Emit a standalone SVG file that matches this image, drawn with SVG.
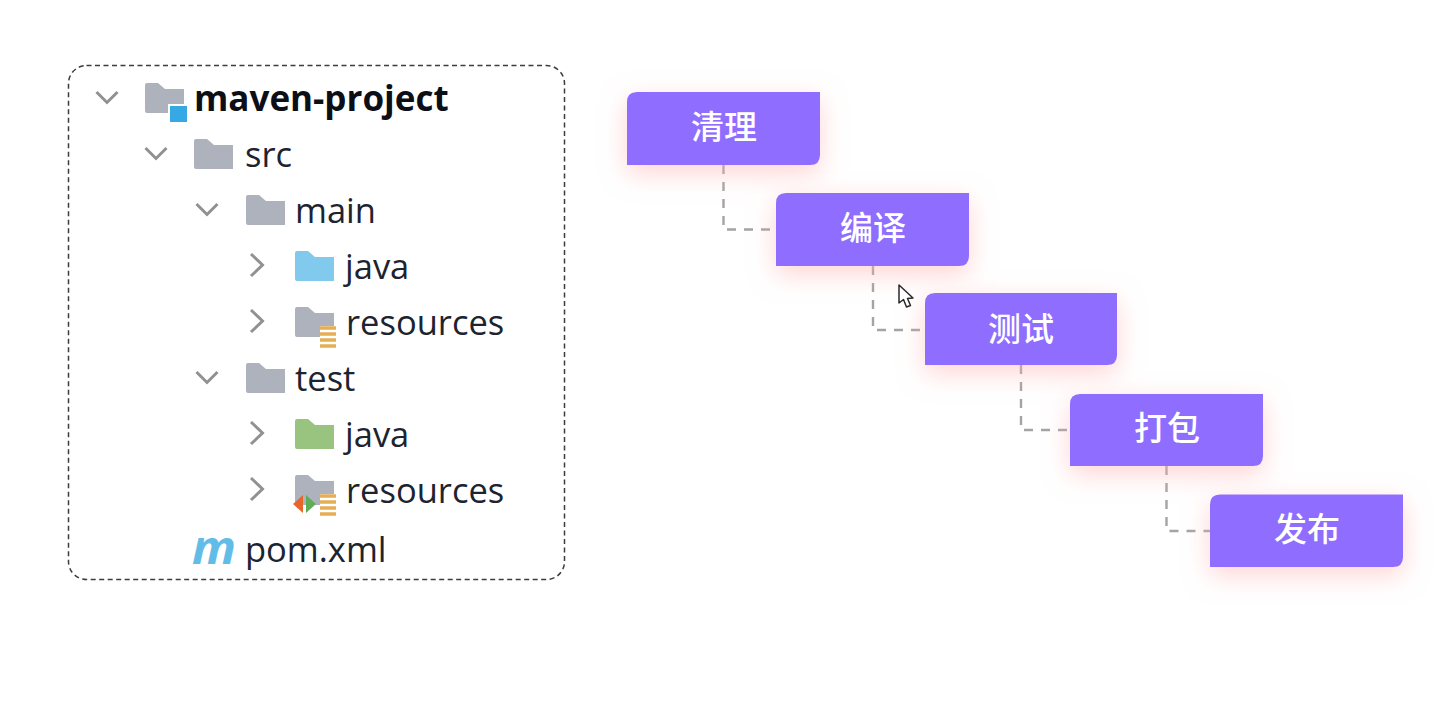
<svg xmlns="http://www.w3.org/2000/svg" width="1439" height="711" viewBox="0 0 1439 711">
<style>
.t{font-family:"Open Sans","Noto Sans",sans-serif;font-size:34.500px;fill:#1c2430}
.b{font-weight:700;font-size:35px;fill:#0c0f16}
.c{fill:none;stroke:#919191;stroke-width:3}
.s{fill:#fff;font-family:"Noto Sans CJK SC",sans-serif;font-size:33px;text-anchor:middle;font-weight:500}
.box{fill:#8f6eff;filter:url(#sh)}
.con{fill:none;stroke:#a5a3a5;stroke-width:2.400;stroke-dasharray:9 8}
</style>
<defs>
<filter id="sh" x="-30%" y="-60%" width="160%" height="240%"><feDropShadow dx="0" dy="8" stdDeviation="13" flood-color="#ffb0b0" flood-opacity=".55"/></filter>
<path id="f" d="M0 2Q0 0 2 0H13L20 6H39V30H2Q0 30 0 28Z"/>
<path id="down" d="M-10.500 -6L0 4.500L10.500 -6"/>
<path id="right" d="M-6 -11L5.500 0L-6 11"/>
<g id="lines"><rect width="16" height="20" fill="#fff"/><path d="M0 2H16M0 8H16M0 14H16M0 20H16" stroke="#e5ae55" stroke-width="3.400" fill="none"/></g>
</defs>
<rect width="1439" height="711" fill="#fff"/>
<g id="tree-panel"><rect x="68.500" y="65.500" width="496" height="514" rx="18" fill="#fff" stroke="#3c3c3c" stroke-width="1.500" stroke-dasharray="5 3.500"/></g>
<g id="tree-maven-project"><use href="#down" x="107" y="98" class="c"/><use href="#f" x="145" y="83" fill="#adb2bd"/><rect x="168" y="104" width="20" height="20" fill="#fff"/><rect x="170" y="106" width="17" height="16" fill="#36a9e4"/><text x="194" y="111" class="t b">maven-project</text></g>
<g id="tree-src"><use href="#down" x="156" y="154" class="c"/><use href="#f" x="194" y="139" fill="#adb2bd"/><text x="245" y="167" class="t">src</text></g>
<g id="tree-main"><use href="#down" x="207" y="210" class="c"/><use href="#f" x="246" y="195" fill="#adb2bd"/><text x="295" y="223" class="t">main</text></g>
<g id="tree-java-main"><use href="#right" x="257" y="265" class="c"/><use href="#f" x="295" y="251" fill="#82c9ee"/><text x="345" y="279" class="t">java</text></g>
<g id="tree-resources-main"><use href="#right" x="257" y="321" class="c"/><use href="#f" x="295" y="307" fill="#adb2bd"/><use href="#lines" x="320" y="326"/><text x="346" y="335" class="t">resources</text></g>
<g id="tree-test"><use href="#down" x="207" y="378" class="c"/><use href="#f" x="246" y="363" fill="#adb2bd"/><text x="295" y="391" class="t">test</text></g>
<g id="tree-java-test"><use href="#right" x="257" y="433" class="c"/><use href="#f" x="295" y="419" fill="#98c47f"/><text x="345" y="447" class="t">java</text></g>
<g id="tree-resources-test"><use href="#right" x="257" y="489" class="c"/><use href="#f" x="295" y="475" fill="#adb2bd"/><use href="#lines" x="320" y="494"/><path d="M303 495V513L293 504Z" fill="#e8662c"/><path d="M306 495V513L316 504Z" fill="#5fae57"/><text x="346" y="503" class="t">resources</text></g>
<g id="tree-pom"><text x="192" y="564" font-family="'Open Sans',sans-serif" font-size="46" font-weight="700" font-style="italic" fill="#62bce8" textLength="44" lengthAdjust="spacingAndGlyphs">m</text><text x="245" y="562" class="t">pom.xml</text></g>
<g id="connectors">
<path class="con" d="M723.500 165V229.500H776"/>
<path class="con" d="M873 266V330H925"/>
<path class="con" d="M1021 365V430H1070"/>
<path class="con" d="M1166.500 466V531H1210"/>
</g>
<g id="step-1"><path class="box" d="M637 92H820V155Q820 165 810 165H627V102Q627 92 637 92Z"/><text x="724" y="139" class="s">清理</text></g>
<g id="step-2"><path class="box" d="M786 193H969V256Q969 266 959 266H776V203Q776 193 786 193Z"/><text x="873" y="240" class="s">编译</text></g>
<g id="step-3"><path class="box" d="M935 293H1117V355Q1117 365 1107 365H925V303Q925 293 935 293Z"/><text x="1021" y="341" class="s">测试</text></g>
<g id="step-4"><path class="box" d="M1080 394H1263V456Q1263 466 1253 466H1070V404Q1070 394 1080 394Z"/><text x="1167" y="440" class="s">打包</text></g>
<g id="step-5"><path class="box" d="M1220 494.500H1403V557Q1403 567 1393 567H1210V504.500Q1210 494.500 1220 494.500Z"/><text x="1307" y="541" class="s">发布</text></g>
<g id="cursor"><path d="M899 285V303L903.500 299.500L906.500 307L910.500 305.500L907.500 298.500L913 298Z" fill="#fff" stroke="#2a2a2a" stroke-width="1.500" stroke-linejoin="round"/></g>
</svg>
